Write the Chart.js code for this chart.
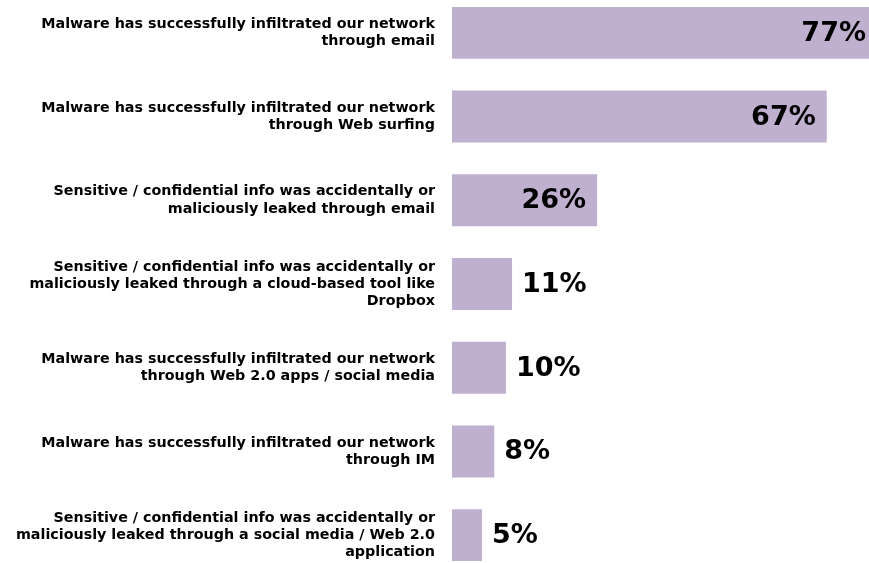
<!DOCTYPE html>
<html>
<head>
<meta charset="utf-8">
<script src="https://cdn.jsdelivr.net/npm/chart.js@4"></script>
<style>
  html, body { margin: 0; padding: 0; background: #fff; overflow: hidden; }
  body { width: 869px; height: 563px; position: relative; }
  #wrap { position: absolute; left: 0; top: -9px; width: 869px; height: 586px; }
</style>
</head>
<body>
<div id="wrap"><canvas id="chart"></canvas></div>
<script>
const categories = [
    ['Malware has successfully infiltrated our network', 'through email'],
    ['Malware has successfully infiltrated our network', 'through Web surfing'],
    ['Sensitive / confidential info was accidentally or', 'maliciously leaked through email'],
    ['Sensitive / confidential info was accidentally or', 'maliciously leaked through a cloud-based tool like', 'Dropbox'],
    ['Malware has successfully infiltrated our network', 'through Web 2.0 apps / social media'],
    ['Malware has successfully infiltrated our network', 'through IM'],
    ['Sensitive / confidential info was accidentally or', 'maliciously leaked through a social media / Web 2.0', 'application']
];
const values = [77, 67.4, 26.1, 10.8, 9.7, 7.6, 5.4];
const valueLabels = ['77%', '67%', '26%', '11%', '10%', '8%', '5%'];

const barColor = '#BFB0CF';

const valueLabelPlugin = {
    id: 'valueLabels',
    afterDatasetsDraw(chart) {
        const ctx = chart.ctx;
        const area = chart.chartArea;
        const meta = chart.getDatasetMeta(0);
        ctx.save();
        ctx.font = 'bold 27px "DejaVu Sans"';
        ctx.fillStyle = '#000';
        ctx.textBaseline = 'middle';
        meta.data.forEach((bar, i) => {
            const text = valueLabels[i];
            const w = ctx.measureText(text).width;
            const end = Math.min(bar.x, area.right);
            if (end - bar.base > w + 24) {
                ctx.textAlign = 'right';
                // clipped bar: keep the label just inside the visible edge
                const x = bar.x > area.right ? area.right - 3 : end - 11;
                ctx.fillText(text, x, bar.y + 1);
            } else {
                ctx.textAlign = 'left';
                ctx.fillText(text, end + 10, bar.y + 1);
            }
        });
        ctx.restore();
    }
};

new Chart(document.getElementById('chart'), {
    type: 'bar',
    data: {
        labels: categories,
        datasets: [{
            data: values,
            backgroundColor: barColor,
            borderWidth: 0,
            categoryPercentage: 1,
            barPercentage: 0.62
        }]
    },
    options: {
        indexAxis: 'y',
        responsive: true,
        maintainAspectRatio: false,
        animation: false,
        layout: { padding: 0 },
        scales: {
            x: {
                display: false,
                min: 0,
                max: 75
            },
            y: {
                grid: { display: false, drawTicks: false },
                border: { display: false },
                ticks: {
                    padding: 17,
                    color: '#000',
                    font: { family: '"DejaVu Sans"', size: 14.3, weight: 'bold', lineHeight: 1.2 }
                },
                afterFit(scale) {
                    scale.width = 452;
                    scale.paddingTop = 0;
                    scale.paddingBottom = 0;
                }
            }
        },
        plugins: {
            legend: { display: false },
            tooltip: { enabled: false }
        }
    },
    plugins: [valueLabelPlugin]
});
</script>
</body>
</html>
